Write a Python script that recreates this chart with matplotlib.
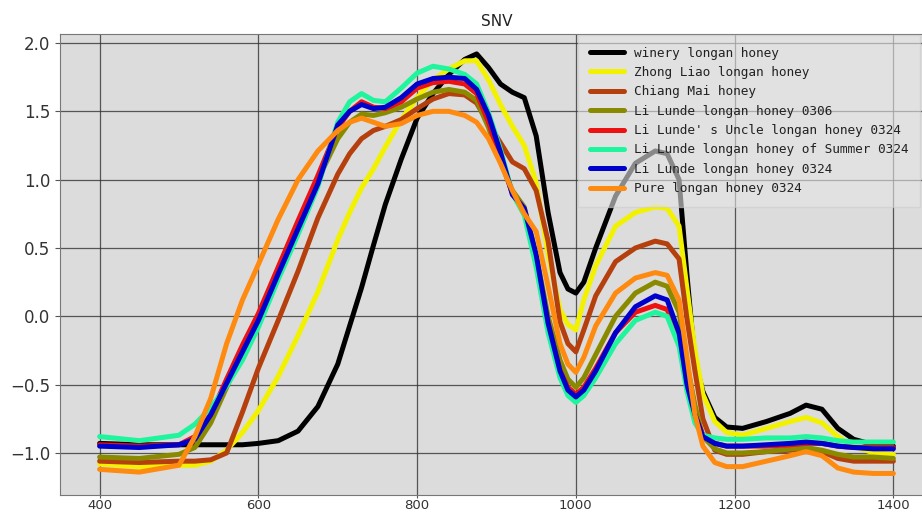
import matplotlib.pyplot as plt

# wavelength grid (nm), denser around peaks and troughs
wavelength = [400, 450, 500, 520, 540, 560, 580, 600, 625, 650, 675, 700, 715, 730,
              745, 760, 780, 800, 820, 840, 860, 875, 890, 905, 920, 935, 950, 965,
              980, 990, 1000, 1010, 1025, 1050, 1075, 1100, 1115, 1130, 1140, 1150,
              1160, 1175, 1190, 1210, 1240, 1270, 1290, 1310, 1330, 1350, 1375, 1400]

# SNV-corrected spectra, one list per honey sample
winery = [-0.93, -0.94, -0.94, -0.94, -0.94, -0.94, -0.94, -0.93, -0.91, -0.84,
          -0.66, -0.35, -0.07, 0.21, 0.52, 0.82, 1.15, 1.45, 1.63, 1.77,
          1.88, 1.92, 1.82, 1.70, 1.64, 1.60, 1.32, 0.76, 0.32, 0.20,
          0.17, 0.25, 0.50, 0.88, 1.12, 1.21, 1.19, 1.00, 0.30, -0.33,
          -0.55, -0.74, -0.81, -0.82, -0.77, -0.71, -0.65, -0.68, -0.82, -0.90,
          -0.94, -0.95]
zhong_liao = [-1.08, -1.10, -1.09, -1.09, -1.06, -0.98, -0.85, -0.69, -0.44, -0.14,
              0.18, 0.56, 0.76, 0.94, 1.08, 1.24, 1.44, 1.60, 1.73, 1.81,
              1.87, 1.87, 1.73, 1.55, 1.39, 1.25, 0.98, 0.45, 0.05, -0.06,
              -0.10, 0.12, 0.37, 0.66, 0.76, 0.80, 0.79, 0.66, 0.20, -0.25,
              -0.57, -0.77, -0.85, -0.87, -0.82, -0.77, -0.74, -0.78, -0.88, -0.95,
              -1.00, -1.01]
chiang_mai = [-1.06, -1.07, -1.06, -1.06, -1.05, -1.00, -0.70, -0.38, -0.03, 0.33,
              0.72, 1.04, 1.19, 1.30, 1.36, 1.39, 1.44, 1.52, 1.59, 1.63,
              1.62, 1.56, 1.41, 1.27, 1.13, 1.08, 0.92, 0.55, -0.04, -0.20,
              -0.26, -0.10, 0.15, 0.40, 0.50, 0.55, 0.53, 0.42, -0.02, -0.40,
              -0.75, -0.98, -1.01, -1.01, -0.99, -0.98, -0.97, -0.99, -1.04, -1.06,
              -1.06, -1.06]
lunde_0306 = [-1.03, -1.04, -1.01, -0.96, -0.78, -0.52, -0.25, 0.00, 0.35, 0.68,
              1.00, 1.30, 1.42, 1.48, 1.47, 1.49, 1.53, 1.59, 1.64, 1.66,
              1.64, 1.58, 1.38, 1.13, 0.92, 0.80, 0.45, 0.00, -0.32, -0.46,
              -0.52, -0.45, -0.28, 0.00, 0.17, 0.25, 0.22, 0.03, -0.35, -0.65,
              -0.88, -0.97, -1.00, -1.00, -0.99, -0.97, -0.96, -0.98, -1.01, -1.03,
              -1.03, -1.04]
lunde_uncle = [-0.94, -0.95, -0.94, -0.88, -0.72, -0.46, -0.21, 0.02, 0.36, 0.70,
               1.03, 1.38, 1.50, 1.57, 1.53, 1.52, 1.57, 1.67, 1.71, 1.72,
               1.70, 1.63, 1.42, 1.15, 0.90, 0.78, 0.42, -0.05, -0.40, -0.52,
               -0.57, -0.52, -0.38, -0.12, 0.03, 0.08, 0.05, -0.15, -0.48, -0.72,
               -0.87, -0.93, -0.95, -0.95, -0.95, -0.94, -0.93, -0.93, -0.95, -0.96,
               -0.96, -0.96]
lunde_summer = [-0.88, -0.91, -0.87, -0.79, -0.67, -0.51, -0.32, -0.08, 0.27, 0.60,
                0.95, 1.42, 1.57, 1.63, 1.58, 1.57, 1.67, 1.78, 1.83, 1.81,
                1.77, 1.70, 1.49, 1.22, 0.90, 0.74, 0.36, -0.12, -0.45, -0.58,
                -0.63, -0.58, -0.45, -0.20, -0.03, 0.03, 0.00, -0.22, -0.55, -0.78,
                -0.87, -0.89, -0.90, -0.90, -0.89, -0.89, -0.88, -0.89, -0.91, -0.92,
                -0.92, -0.92]
lunde_0324 = [-0.95, -0.96, -0.94, -0.90, -0.72, -0.49, -0.26, -0.03, 0.31, 0.64,
              0.97, 1.40, 1.50, 1.55, 1.52, 1.53, 1.60, 1.70, 1.74, 1.75,
              1.74, 1.66, 1.47, 1.20, 0.89, 0.79, 0.45, -0.05, -0.40, -0.54,
              -0.59, -0.54, -0.40, -0.12, 0.07, 0.15, 0.12, -0.12, -0.50, -0.72,
              -0.88, -0.93, -0.95, -0.95, -0.94, -0.93, -0.92, -0.93, -0.95, -0.96,
              -0.97, -0.97]
pure_0324 = [-1.12, -1.14, -1.09, -0.88, -0.60, -0.20, 0.12, 0.38, 0.71, 1.00,
             1.21, 1.36, 1.42, 1.45, 1.42, 1.39, 1.41, 1.47, 1.50, 1.50,
             1.47, 1.42, 1.30, 1.12, 0.92, 0.75, 0.62, 0.22, -0.20, -0.35,
             -0.41, -0.30, -0.07, 0.17, 0.28, 0.32, 0.30, 0.12, -0.30, -0.72,
             -0.95, -1.07, -1.10, -1.10, -1.06, -1.02, -0.99, -1.02, -1.11, -1.14,
             -1.15, -1.15]

labels = ['winery longan honey', 'Zhong Liao longan honey', 'Chiang Mai honey',
          'Li Lunde longan honey 0306', "Li Lunde' s Uncle longan honey 0324",
          'Li Lunde longan honey of Summer 0324', 'Li Lunde longan honey 0324',
          'Pure longan honey 0324']
colors = ['black', '#f2f200', '#b5400e', '#8a8a00', '#ee1111',
          '#1ef59c', '#0000cc', '#ff8a10']
series = [winery, zhong_liao, chiang_mai, lunde_0306, lunde_uncle,
          lunde_summer, lunde_0324, pure_0324]

fig = plt.figure(figsize=(9.22, 5.15), dpi=100)
ax = fig.add_axes([0.065, 0.039, 0.947, 0.895])
ax.set_facecolor('#dcdcdc')

for y, c, lab in zip(series, colors, labels):
    ax.plot(wavelength, y, color=c, lw=3.6, label=lab,
            solid_joinstyle='round', solid_capstyle='round')

ax.set_xlim(350, 1450)
ax.set_ylim(-1.307, 2.066)
ax.set_xticks([400, 600, 800, 1000, 1200, 1400])
ax.set_yticks([-1.0, -0.5, 0.0, 0.5, 1.0, 1.5, 2.0])
ax.grid(True, color='#333333', lw=0.9, alpha=0.8)
ax.set_axisbelow(True)
ax.tick_params(labelsize=12, length=3.5, color='#555555', labelcolor='#333333')
# x labels sit right at the lower edge of the figure
ax.tick_params(axis='x', labelsize=9.5, length=2.5, pad=0.3)
for s in ax.spines.values():
    s.set_color('#777777')
    s.set_linewidth(0.8)

ax.set_title('SNV', fontsize=11, color='#222222', pad=6)

leg = ax.legend(loc='upper left', bbox_to_anchor=(578 / 922, 1 - 35 / 515),
                bbox_transform=fig.transFigure,
                prop={'family': 'DejaVu Sans Mono', 'size': 9.2},
                handlelength=2.7, labelspacing=0.5, borderpad=0.9, borderaxespad=0.0,
                framealpha=0.6, facecolor='#e6e6e6', edgecolor='#cccccc', fancybox=False)
for t in leg.get_texts():
    t.set_color('#222222')

fig.savefig('out.png', dpi=100)
